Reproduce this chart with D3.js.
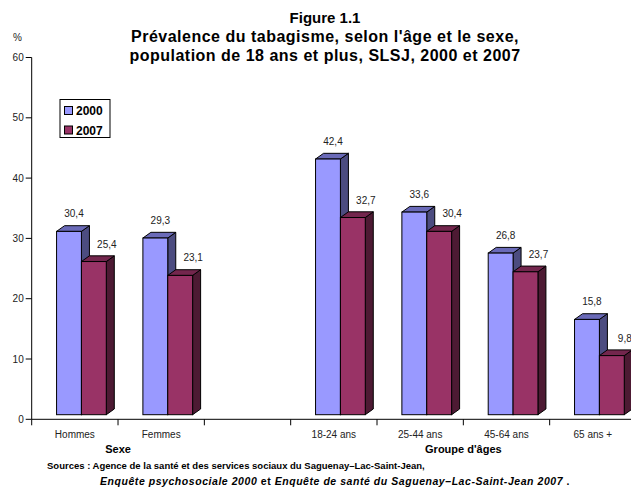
<!DOCTYPE html>
<html>
<head>
<meta charset="utf-8">
<script src="https://cdn.jsdelivr.net/npm/d3@7"></script>
<style>
  body { margin: 0; background: #fff; }
  svg { font-family: Arial, "Liberation Sans", sans-serif; }
</style>
</head>
<body>
<svg id="chart" width="631" height="494"></svg>
<script>
// categories (empty slot separates the two groups)
var categories = ['Hommes', 'Femmes', '', '18-24 ans', '25-44 ans', '45-64 ans', '65 ans +'];
var series = ['2000', '2007'];
var values2000 = [30.4, 29.3, null, 42.4, 33.6, 26.8, 15.8];
var values2007 = [25.4, 23.1, null, 32.7, 30.4, 23.7, 9.8];
var groupLabels = [
  {label: 'Sexe', from: 0, to: 2},
  {label: "Groupe d'âges", from: 3, to: 7}
];
var yTicks = [0, 10, 20, 30, 40, 50, 60];
var titleLines = ['Figure 1.1',
  "Prévalence du tabagisme, selon l'âge et le sexe,",
  'population de 18 ans et plus, SLSJ, 2000 et 2007'];

var colors = {
  '2000': {front: '#9999ff', top: '#6a6ab8', side: '#4c4c80'},
  '2007': {front: '#993366', top: '#73264d', side: '#4d1a33'}
};

var svg = d3.select('#chart');

var x = d3.scaleBand().domain(d3.range(categories.length)).range([31.7, 636]).padding(0);
var y = d3.scaleLinear().domain([0, 60]).range([419.3, 57.5]);

var bw = x.bandwidth();
var barW = bw * 0.288;
var xs = d3.scaleBand().domain(series).range([bw * 0.288, bw * 0.288 + 2 * barW]);

// 3D depth and front-face lift
var DX = 8, DY = 5.7, LIFT = 4.6;

// title
svg.append('g').selectAll('text')
  .data(titleLines)
  .enter().append('text')
  .attr('x', 325)
  .attr('y', function(d, i) { return 23 + i * 19; })
  .attr('text-anchor', 'middle')
  .style('font-weight', 'bold')
  .style('font-size', function(d, i) { return i === 0 ? '15px' : '16px'; })
  .style('letter-spacing', function(d, i) { return i === 0 ? '0px' : '0.5px'; })
  .text(function(d) { return d; });

// y axis
var yAxis = svg.append('g').attr('transform', 'translate(31.7,0)');
yAxis.append('line').attr('x1', 0).attr('x2', 0).attr('y1', y(60)).attr('y2', y(0)).attr('stroke', '#000');
yAxis.selectAll('line.tick').data(yTicks).enter().append('line')
  .attr('class', 'tick')
  .attr('x1', -6).attr('x2', 0)
  .attr('y1', function(d) { return y(d); }).attr('y2', function(d) { return y(d); })
  .attr('stroke', '#000');
yAxis.selectAll('text').data(yTicks).enter().append('text')
  .attr('x', -8)
  .attr('y', function(d) { return y(d) + 3.5; })
  .attr('text-anchor', 'end')
  .style('font-size', '10px')
  .attr('fill', '#222')
  .text(function(d) { return d; });
svg.append('text').attr('x', 13).attr('y', 41).style('font-size', '10px').attr('fill', '#222').text('%');

// bars
var rows = [];
categories.forEach(function(c, i) {
  if(values2000[i] !== null) rows.push({i: i, s: '2000', v: values2000[i]});
  if(values2007[i] !== null) rows.push({i: i, s: '2007', v: values2007[i]});
});
// draw 2007 after 2000 within a category so it overlaps the blue side
var bars = svg.append('g').selectAll('g.bar').data(rows).enter().append('g').attr('class', 'bar');
bars.each(function(d) {
  var g = d3.select(this);
  var x0 = x(d.i) + xs(d.s);
  var x1 = x0 + barW;
  var yb = y(0) - LIFT;
  var yt = y(d.v) - LIFT;
  var c = colors[d.s];
  // side
  g.append('path')
    .attr('d', 'M' + x1 + ',' + yt + 'L' + (x1 + DX) + ',' + (yt - DY) + 'L' + (x1 + DX) + ',' + (yb - DY) + 'L' + x1 + ',' + yb + 'Z')
    .attr('fill', c.side).attr('stroke', '#000').attr('stroke-width', 1);
  // top
  g.append('path')
    .attr('d', 'M' + x0 + ',' + yt + 'L' + (x0 + DX) + ',' + (yt - DY) + 'L' + (x1 + DX) + ',' + (yt - DY) + 'L' + x1 + ',' + yt + 'Z')
    .attr('fill', c.top).attr('stroke', '#000').attr('stroke-width', 1);
  // front
  g.append('rect')
    .attr('x', x0).attr('y', yt).attr('width', barW).attr('height', yb - yt)
    .attr('fill', c.front).attr('stroke', '#000').attr('stroke-width', 1);
  // value label
  g.append('text')
    .attr('x', x0 + barW / 2 + (d.s === '2000' ? 5 : 13))
    .attr('y', yt - 14)
    .attr('text-anchor', 'middle')
    .style('font-size', '10px')
    .attr('fill', '#222')
    .text(String(d.v).replace('.', ','));
});

// x axis
var xAxis = svg.append('g');
xAxis.append('line').attr('x1', 31.7).attr('x2', 631).attr('y1', y(0)).attr('y2', y(0)).attr('stroke', '#000');
xAxis.selectAll('line.tick').data(d3.range(categories.length + 1)).enter().append('line')
  .attr('class', 'tick')
  .attr('x1', function(d) { return 31.7 + d * bw; }).attr('x2', function(d) { return 31.7 + d * bw; })
  .attr('y1', y(0)).attr('y2', y(0) + 6)
  .attr('stroke', '#000');
xAxis.selectAll('text.cat').data(categories).enter().append('text')
  .attr('class', 'cat')
  .attr('x', function(d, i) { return x(i) + bw / 2; })
  .attr('y', 438)
  .attr('text-anchor', 'middle')
  .style('font-size', '10px')
  .attr('fill', '#222')
  .text(function(d) { return d; });
xAxis.selectAll('text.grp').data(groupLabels).enter().append('text')
  .attr('class', 'grp')
  .attr('x', function(d) { return x(d.from) + (d.to - d.from) * bw / 2; })
  .attr('y', 453)
  .attr('text-anchor', 'middle')
  .style('font-size', '11px')
  .style('font-weight', 'bold')
  .text(function(d) { return d.label; });

// legend
var legend = svg.append('g');
legend.append('rect').attr('x', 60).attr('y', 99.5).attr('width', 50).attr('height', 38)
  .attr('fill', '#fff').attr('stroke', '#000');
series.forEach(function(s, i) {
  var cy = 110.5 + i * 19.5;
  legend.append('rect').attr('x', 64.5).attr('y', cy - 4).attr('width', 8).attr('height', 8)
    .attr('fill', colors[s].front).attr('stroke', '#000');
  legend.append('text').attr('x', 76).attr('y', cy + 4.5)
    .style('font-size', '12px').style('font-weight', 'bold').text(s);
});

// sources
var src = svg.append('g').style('font-size', '9.5px').style('font-weight', 'bold');
src.append('text').attr('x', 47).attr('y', 469)
  .text('Sources : Agence de la santé et des services sociaux du Saguenay–Lac-Saint-Jean,');
var line2 = src.append('text').attr('x', 100).attr('y', 485)
  .style('font-size', '10.5px').style('letter-spacing', '0.55px');
line2.append('tspan').style('font-style', 'italic').text('Enquête psychosociale 2000');
line2.append('tspan').text(' et ');
line2.append('tspan').style('font-style', 'italic').text('Enquête de santé du Saguenay–Lac-Saint-Jean 2007');
line2.append('tspan').text(' .');
</script>
</body>
</html>
